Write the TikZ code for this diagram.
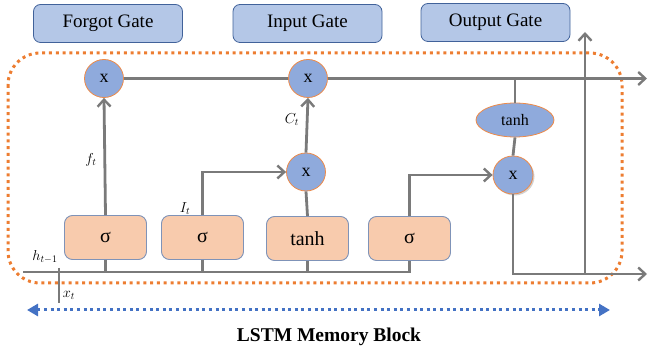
\documentclass[tikz,border=0pt]{standalone}
\usepackage{fontspec}
\setmainfont{Liberation Serif}
\usetikzlibrary{arrows.meta,shapes.geometric,shadows}

\definecolor{wire}{HTML}{7A7A7A}
\definecolor{gatefill}{HTML}{B4C7E7}
\definecolor{gatedraw}{HTML}{41629A}
\definecolor{actfill}{HTML}{F8CBAD}
\definecolor{actdraw}{HTML}{7F93B8}
\definecolor{opfill}{HTML}{8FAADC}
\definecolor{opdraw}{HTML}{EE8A48}
\definecolor{blockline}{HTML}{ED7D31}
\definecolor{spanline}{HTML}{4472C4}

\tikzset{
  gatebox/.style={draw=gatedraw, line width=0.8pt, fill=gatefill, rounded corners=7pt,
    minimum width=149pt, minimum height=38pt, inner sep=0pt,
    font=\fontsize{19}{22}\selectfont},
  actbox/.style={draw=actdraw, line width=0.9pt, fill=actfill, rounded corners=8pt,
    minimum width=82pt, minimum height=44pt, inner sep=0pt,
    font=\fontsize{20}{22}\selectfont},
  opnode/.style={ellipse, draw=opdraw, line width=0.8pt, fill=opfill, inner sep=0pt,
    minimum width=39pt, minimum height=38pt, font=\fontsize{18}{22}\selectfont},
  wireline/.style={draw=wire, line width=2.8pt},
  flow/.style={wireline, -{Straight Barb[length=7pt,width=13pt,line width=2.4pt]}},
  lbl/.style={font=\fontsize{14}{16}\selectfont, inner sep=0pt},
}

\begin{document}
\begin{tikzpicture}[x=1pt,y=-1pt]
\useasboundingbox (0,0) rectangle (649,352);

% memory block outline
\draw[blockline, line width=3pt, dash pattern=on 3pt off 3.8pt, rounded corners=32pt]
  (8,53) rectangle (622,283);

% gate captions
\node[gatebox] (fg) at (108,23.5) {Forgot Gate};
\node[gatebox] (ig) at (307.5,23.5) {Input Gate};
\node[gatebox] (og) at (495.5,22.5) {Output Gate};

% activation layers
\node[actbox] (s1) at (105.5,237.5) {σ};
\node[actbox] (s2) at (202.5,237.5) {σ};
\node[actbox] (th) at (307.5,238.5) {tanh};
\node[actbox] (s3) at (409.5,238.5) {σ};

% pointwise operations
\node[opnode] (cf) at (104,78.5) {x};
\node[opnode] (ci) at (308,78.5) {x};
\node[opnode] (cm) at (306,172) {x};
\node[opnode, minimum width=40pt, minimum height=38pt,
  drop shadow={shadow xshift=1.5pt, shadow yshift=-1.5pt, opacity=0.18, fill=black}] (co) at (513,175) {x};
\node[opnode, minimum width=78pt, minimum height=34pt, font=\fontsize{16}{18}\selectfont] (te) at (515,120) {tanh};

% free ends
\coordinate (cellout) at (647,78.5);
\coordinate (hout) at (647,274);
\coordinate (htop) at (585,32);
\coordinate (hin) at (23,272);
\coordinate (xtop) at (59,268);
\coordinate (xbot) at (59,303);
\coordinate (spanl) at (27,310);
\coordinate (spanr) at (610,310);

% cell state line
\draw[wireline] (cf.east) -- (ci.west);
\draw[flow] (ci.east) -- (cellout);
\draw[wireline] (te.north) -- (te.north |- cellout);

% input bus h_{t-1}, x_t
\draw[wireline] (hin) -- (hin -| s3.south) -- (s3.south);
\draw[wireline] (s1.south) -- (s1.south |- hin);
\draw[wireline] (s2.south) -- (s2.south |- hin);
\draw[wireline] (th.south) -- (th.south |- hin);
\draw[wireline] (xtop) -- (xbot);

% gate paths
\draw[flow] (s1.north) -- (cf.south);
\draw[flow] (s2.north) |- (cm.west);
\draw[wireline] (th.north) -- (cm.south);
\draw[flow] (cm.north) -- (ci.south);
\draw[flow] (s3.north) |- (co.west);
\draw[wireline] (co.north) -- (te.south);

% hidden output
\draw[flow] (co.south) |- (hout);
\draw[flow] (htop |- hout) -- (htop);

% labels
\node[lbl] at (91,160) {$f_t$};
\node[lbl] at (185,209) {$I_t$};
\node[lbl] at (292,120) {$C_t$};
\node[lbl] at (45,257) {$h_{t-1}$};
\node[lbl] at (69,295) {$x_t$};

% block span
\draw[spanline, line width=3pt, dash pattern=on 3pt off 3.6pt,
  {Triangle[length=11pt,width=12pt]}-{Triangle[length=11pt,width=12pt]}] (spanl) -- (spanr);
\node[font=\bfseries\fontsize{19.5}{22}\selectfont] (cap) at (329,337) {LSTM Memory Block};
\end{tikzpicture}
\end{document}
